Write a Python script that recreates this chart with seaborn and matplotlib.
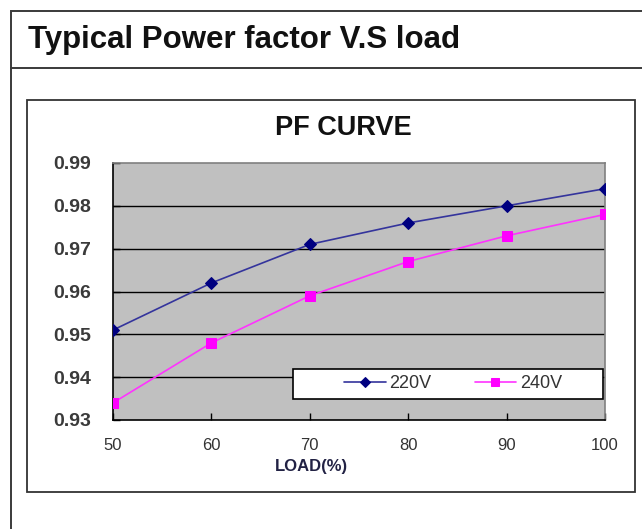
import pandas as pd
import matplotlib.pyplot as plt
import seaborn as sns
from matplotlib.patches import Rectangle
from matplotlib.lines import Line2D

# data
load = [50, 60, 70, 80, 90, 100]
pf_220v = [0.951, 0.962, 0.971, 0.976, 0.980, 0.984]
pf_240v = [0.934, 0.948, 0.959, 0.967, 0.973, 0.978]
y_ticks = [0.93, 0.94, 0.95, 0.96, 0.97, 0.98, 0.99]

df = pd.DataFrame({'load': load, '220V': pf_220v, '240V': pf_240v})

sns.set_style('white')
plt.rcParams['font.family'] = ['Liberation Sans', 'DejaVu Sans']

fig = plt.figure(figsize=(6.42, 5.29), dpi=100)
W, H = 642, 529

def fx(px):
    return px / W

def fy(py):
    return 1 - py / H

# outer frame and title band
fig.patches.append(Rectangle((fx(11), fy(545)), fx(660) - fx(11), fy(11) - fy(545),
                             transform=fig.transFigure, fill=False, edgecolor='#3a3a3a', lw=1.4))
fig.lines.append(Line2D([fx(11), fx(660)], [fy(68), fy(68)], transform=fig.transFigure,
                        color='#3a3a3a', lw=1.4))
fig.text(fx(28), fy(40), 'Typical Power factor V.S load', fontsize=22.5, fontweight='bold',
         va='center', ha='left', color='#111111')

# inner chart box
fig.patches.append(Rectangle((fx(27), fy(492)), fx(635) - fx(27), fy(100) - fy(492),
                             transform=fig.transFigure, fill=False, edgecolor='#333333', lw=1.3))

x0, x1, y0, y1 = 113, 605, 163, 420
ax = fig.add_axes([fx(x0), fy(y1), fx(x1) - fx(x0), fy(y0) - fy(y1)])
ax.set_facecolor('#C0C0C0')

def ax_x(px):
    return (px - x0) / (x1 - x0)

def ax_y(py):
    return (y1 - py) / (y1 - y0)

for y in y_ticks[1:-1]:
    ax.axhline(y, color='black', lw=1.0, zorder=1)

sns.lineplot(data=df, x='load', y='220V', ax=ax, color='#34349C', marker='D',
             markersize=6, markerfacecolor='#000080', markeredgecolor='#000080',
             lw=1.2, label='220V', zorder=3)
sns.lineplot(data=df, x='load', y='240V', ax=ax, color='#FF33FF', marker='s',
             markersize=7, markerfacecolor='#FF00FF', markeredgecolor='#FF00FF',
             lw=1.2, label='240V', zorder=3)

ax.set_xlim(50, 100)
ax.set_ylim(0.93, 0.99)
ax.set_xticks(load)
ax.set_yticks(y_ticks)
ax.set_yticklabels([f'{v:.2f}' for v in y_ticks])
ax.tick_params(axis='both', direction='in', length=5, width=1, colors='black',
               left=True, bottom=True)
ax.tick_params(axis='x', labelsize=12, labelcolor='#333333', pad=13)
ax.tick_params(axis='y', labelsize=14, labelcolor='#3a3a3a', pad=16)
for lbl in ax.get_yticklabels():
    lbl.set_fontweight('bold')

ax.set_xlabel('')
ax.set_ylabel('')
fig.text(fx(343), fy(128), 'PF CURVE', fontsize=19.5, fontweight='bold',
         ha='center', va='center', color='#111111')
fig.text(fx(311), fy(467), 'LOAD(%)', fontsize=12, fontweight='bold',
         ha='center', va='center', color='#222244')

for side in ['top', 'right']:
    ax.spines[side].set_color('#808080')
    ax.spines[side].set_linewidth(1.2)
for side in ['left', 'bottom']:
    ax.spines[side].set_color('black')
    ax.spines[side].set_linewidth(1.2)

# legend box with the entries inside
ax.add_patch(Rectangle((ax_x(293), ax_y(399)), ax_x(603) - ax_x(293), ax_y(369) - ax_y(399),
                       transform=ax.transAxes, facecolor='white', edgecolor='black',
                       lw=1.2, zorder=4))
leg = ax.legend(loc='center', bbox_to_anchor=(ax_x(453), ax_y(384)),
                bbox_transform=ax.transAxes, ncol=2, frameon=False, fontsize=13,
                handlelength=2.3, handletextpad=0.2, columnspacing=2.4,
                borderpad=0, markerscale=0.8)
leg.set_zorder(5)
for t in leg.get_texts():
    t.set_color('#333333')

fig.savefig('out.png', dpi=100)
